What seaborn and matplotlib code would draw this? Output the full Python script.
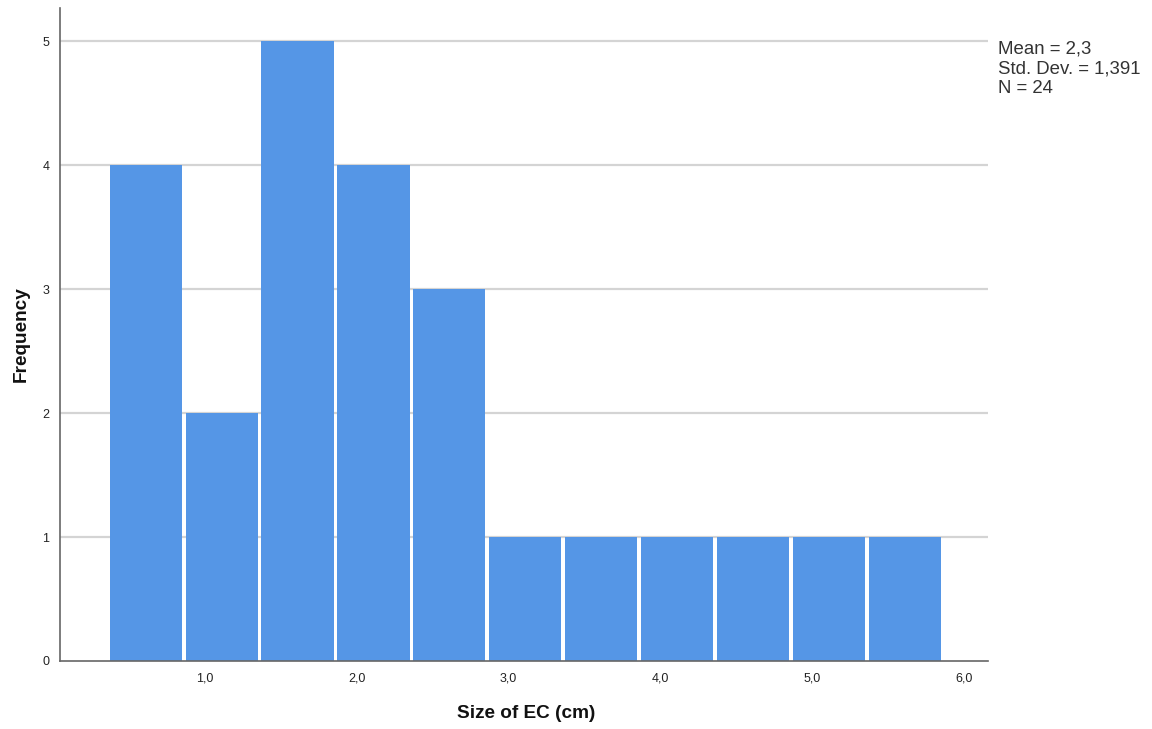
import matplotlib
matplotlib.use("Agg")
import matplotlib.pyplot as plt
import seaborn as sns
import pandas as pd

# Histogram of EC size: bin centres (cm) and their frequencies
bin_centers = [0.61, 1.11, 1.61, 2.11, 2.61, 3.11, 3.61, 4.11, 4.61, 5.11, 5.61]
frequencies = [4, 2, 5, 4, 3, 1, 1, 1, 1, 1, 1]
bin_width = 0.5

x_ticks = [1.0, 2.0, 3.0, 4.0, 5.0, 6.0]
x_tick_labels = ["1,0", "2,0", "3,0", "4,0", "5,0", "6,0"]
y_ticks = [0, 1, 2, 3, 4, 5]

stats_lines = ["Mean = 2,3", "Std. Dev. = 1,391", "N = 24"]

sns.set_theme(style="white")
plt.rcParams["font.family"] = ["Liberation Sans", "DejaVu Sans"]

fig = plt.figure(figsize=(11.52, 7.29), dpi=100)
ax = fig.add_axes([0.0525, 0.0933, 0.805, 0.8957])

df = pd.DataFrame({"size": bin_centers, "count": frequencies})
edges = [float(bin_centers[0] - bin_width / 2)] + \
        [float(c + bin_width / 2) for c in bin_centers]
sns.histplot(data=df, x="size", weights="count", bins=edges, ax=ax,
             color="#5596E6", alpha=1.0, linewidth=0, shrink=0.952,
             zorder=3)

ax.set_xlim(0.048, 6.158)
ax.set_ylim(0, 5.27)

ax.set_yticks(y_ticks)
ax.set_yticklabels([str(v) for v in y_ticks], fontsize=9, color="#222222")
ax.set_xticks(x_ticks)
ax.set_xticklabels(x_tick_labels, fontsize=9, color="#222222")
ax.tick_params(axis="both", length=0)
ax.tick_params(axis="x", pad=8)
ax.tick_params(axis="y", pad=8)

# horizontal reference lines behind the bars
for v in y_ticks[1:]:
    ax.axhline(v, color="#d4d4d4", linewidth=1.6, zorder=1)

for side in ["top", "right"]:
    ax.spines[side].set_visible(False)
for side in ["left", "bottom"]:
    ax.spines[side].set_color("#666666")
    ax.spines[side].set_linewidth(1.2)
    ax.spines[side].set_zorder(4)

ax.set_xlabel("Size of EC (cm)", fontsize=13.7, fontweight="bold",
              color="#111111", va="top")
ax.set_ylabel("Frequency", fontsize=13.7, fontweight="bold",
              color="#111111")
ax.xaxis.set_label_coords(0.502, -0.068)
ax.yaxis.set_label_coords(-0.0335, 0.5)

fig.text(998 / 1152, 1 - 41 / 729, "\n".join(stats_lines), fontsize=13.4,
         color="#333333", va="top", ha="left", linespacing=1.2)

fig.savefig("out.png", dpi=100, facecolor="white")
